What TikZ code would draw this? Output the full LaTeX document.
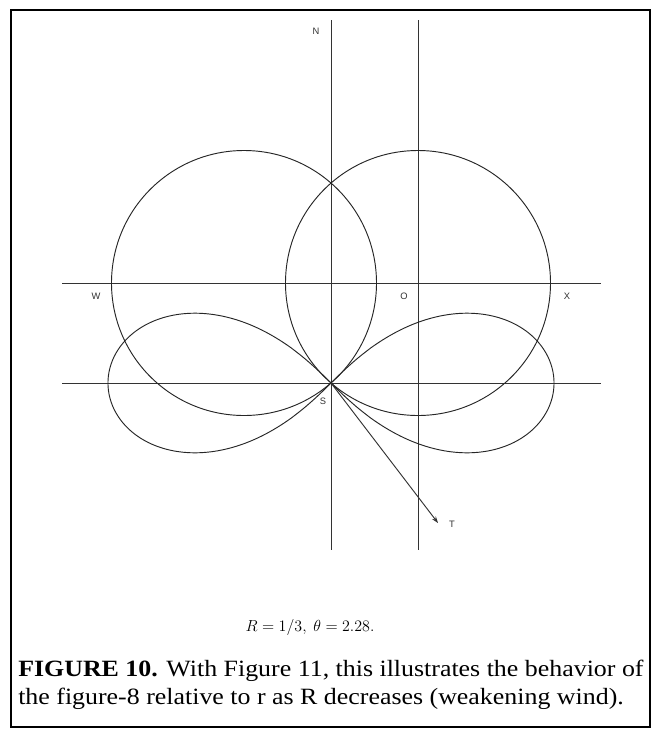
\documentclass[tikz,border=0pt]{standalone}
\usepackage[no-math]{fontspec}
\setmainfont{Liberation Serif}
\newfontfamily\labelfont{Liberation Sans}
\usetikzlibrary{arrows.meta}
\begin{document}
\begin{tikzpicture}[x=0.75pt,y=-0.75pt,
  axis/.style={line width=0.7pt, draw=black!80},
  curve/.style={line width=0.7pt, draw=black!85},
  lbl/.style={font=\labelfont\fontsize{7}{8}\selectfont, text=black!80, inner sep=0pt},
  capline/.style={font=\fontsize{17.5}{20}\selectfont, anchor=west, inner sep=0pt}]
\useasboundingbox (0,0) rectangle (652,729);
\fill[white] (0,0) rectangle (652,729);
\draw[line width=1.6pt] (11,10) rectangle (650,727);

\coordinate (S) at (331,383);
\coordinate (O) at (418,283);
\coordinate (Wc) at (244,283);
\coordinate (Ntop) at (331,20);
\coordinate (Nbot) at (331,550);
\coordinate (Otop) at (418,20);
\coordinate (Obot) at (418,550);
\coordinate (Hl) at (62,283);
\coordinate (Hr) at (601,283);
\coordinate (Ll) at (62,383);
\coordinate (Lr) at (601,383);
\coordinate (Tend) at (438,523);

\draw[axis] (Ntop) -- (Nbot);
\draw[axis] (Otop) -- (Obot);
\draw[axis] (Hl) -- (Hr);
\draw[axis] (Ll) -- (Lr);

\draw[curve] (O) circle[radius=132.5];
\draw[curve] (Wc) circle[radius=132.5];

\draw[curve] (S) -- plot[domain=-44.9:44.9, samples=181, smooth]
  ({331+223*pow(cos(2*\x),0.7)*cos(\x)}, {383-223*pow(cos(2*\x),0.7)*sin(\x)}) -- (S);
\draw[curve] (S) -- plot[domain=-44.9:44.9, samples=181, smooth]
  ({331-223*pow(cos(2*\x),0.7)*cos(\x)}, {383-223*pow(cos(2*\x),0.7)*sin(\x)}) -- (S);

\draw[axis, -{Stealth[length=5pt,width=3.5pt]}] (S) -- (Tend);

\node[lbl] (nN) at (316,31) {N};
\node[lbl] (nW) at (96,296) {W};
\node[lbl] (nO) at (404,296) {O};
\node[lbl] (nX) at (567,296) {X};
\node[lbl] (nS) at (323,401) {S};
\node[lbl] (nT) at (452,524) {T};

\node[font=\fontsize{12.2}{14}\selectfont, inner sep=0pt] (param) at (310,627) {$R = 1/3,\ \theta = 2.28.$};

\node[capline] (cap1) at (18,671) {\scalebox{1.11}[1]{\textbf{FIGURE 10.} With Figure 11, this illustrates the behavior of}};
\node[capline] (cap2) at (18,699) {\scalebox{1.11}[1]{the figure-8 relative to r as R decreases (weakening wind).}};
\end{tikzpicture}
\end{document}
